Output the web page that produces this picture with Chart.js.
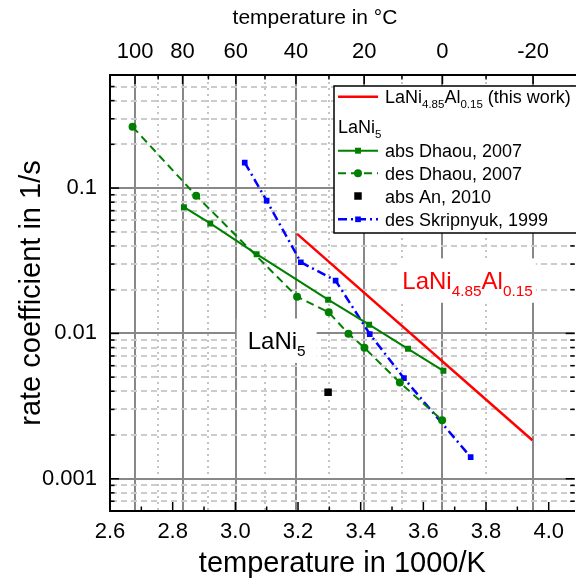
<!DOCTYPE html>
<html lang="en">
<head>
  <meta charset="UTF-8" />
  <title>Rate coefficient vs. inverse temperature</title>
  <script src="https://cdn.jsdelivr.net/npm/chart.js@4"></script>
  <style>
    html, body { margin: 0; padding: 0; background: #fff; overflow: hidden; }
    #wrap { width: 580px; height: 581px; }
  </style>
</head>
<body>
  <div id="wrap"><canvas id="rateChart"></canvas></div>

  <script>
    // x = 1000/K, y = rate coefficient in 1/s
    const thisWorkX = [3.197, 3.948];
    const thisWorkY = [0.0484, 0.00184];

    const absDhaouX = [2.836, 2.920, 3.068, 3.296, 3.427, 3.551, 3.664];
    const absDhaouY = [0.0739, 0.0571, 0.0351, 0.01706, 0.01148, 0.00784, 0.00553];

    const desDhaouX = [2.672, 2.875, 3.197, 3.298, 3.361, 3.412, 3.525, 3.660];
    const desDhaouY = [0.264, 0.0887, 0.0179, 0.01397, 0.00995, 0.00796, 0.00459, 0.00253];

    const absAnX = [3.296];
    const absAnY = [0.00394];

    const desSkripX = [3.030, 3.100, 3.209, 3.320, 3.429, 3.538, 3.751];
    const desSkripY = [0.1496, 0.0819, 0.0309, 0.0231, 0.0099, 0.00492, 0.00141];

    // ticks
    const xTicks = [2.6, 2.8, 3.0, 3.2, 3.4, 3.6, 3.8, 4.0];
    const xMinorTicks = [2.7, 2.9, 3.1, 3.3, 3.5, 3.7, 3.9];
    const tempTicksC = [100, 80, 60, 40, 20, 0, -20];
    const tempMinorC = [90, 70, 50, 30, 10, -10];
    const yTicks = [0.001, 0.01, 0.1];
    const yMinorTicks = [0.0007, 0.0008, 0.0009,
      0.002, 0.003, 0.004, 0.005, 0.006, 0.007, 0.008, 0.009,
      0.02, 0.03, 0.04, 0.05, 0.06, 0.07, 0.08, 0.09,
      0.2, 0.3, 0.4, 0.5];

    const GREEN = '#008000', BLUE = '#0000ff', RED = '#ff0000';
    const FONT = '"Liberation Sans", Arial, Helvetica, sans-serif';
    Chart.defaults.font.family = FONT;
    Chart.defaults.color = '#000';

    const pts = (xs, ys) => xs.map((x, i) => ({ x, y: ys[i] }));
    const inv = c => 1000 / (c + 273.15);
    const toC = v => Math.round(1000 / v - 273.15);

    // text with subscripts, parts = [[text, isSub], ...]
    function richWidth(ctx, parts, size) {
      let w = 0;
      parts.forEach(([t, sub]) => {
        ctx.font = (sub ? size * 0.64 : size) + 'px ' + FONT;
        w += ctx.measureText(t).width;
      });
      return w;
    }
    function drawRich(ctx, parts, x, base, size, color) {
      ctx.fillStyle = color;
      ctx.textBaseline = 'alphabetic';
      ctx.textAlign = 'left';
      parts.forEach(([t, sub]) => {
        ctx.font = (sub ? size * 0.64 : size) + 'px ' + FONT;
        ctx.fillText(t, x, sub ? base + size * 0.28 : base);
        x += ctx.measureText(t).width;
      });
    }
    function marker(ctx, style, x, y, r, color) {
      ctx.fillStyle = color;
      ctx.beginPath();
      if (style === 'circle') ctx.arc(x, y, r, 0, Math.PI * 2);
      else { const h = r * Math.SQRT1_2; ctx.rect(x - h, y - h, 2 * h, 2 * h); }
      ctx.fill();
    }

    const legendRows = [
      { dy: 10.7, color: RED, width: 2.5, dash: [], line: true, text: [['LaNi', 0], ['4.85', 1], ['Al', 0], ['0.15', 1], [' (this work)', 0]] },
      { dy: 40, header: true, text: [['LaNi', 0], ['5', 1]] },
      { dy: 64.7, color: GREEN, width: 2, dash: [], line: true, point: 'rect', r: 4.2, text: [['abs Dhaou, 2007', 0]] },
      { dy: 87.3, color: GREEN, width: 2, dash: [8, 5], line: true, point: 'circle', r: 4, text: [['des Dhaou, 2007', 0]] },
      { dy: 110, color: '#000', line: false, point: 'rect', r: 5.3, text: [['abs An, 2010', 0]] },
      { dy: 133.3, color: BLUE, width: 2.5, dash: [9, 4, 2, 4], line: true, point: 'rect', r: 4, text: [['des Skripnyuk, 1999', 0]] }
    ];

    const notes = [
      { x: 3.132, y: 0.0089, size: 24, padX: 22, color: '#000', text: [['LaNi', 0], ['5', 1]] },
      { x: 3.741, y: 0.0231, size: 24, padX: 6, color: RED, text: [['LaNi', 0], ['4.85', 1], ['Al', 0], ['0.15', 1]] }
    ];

    const extras = {
      id: 'extras',
      beforeDatasetsDraw(chart) {
        const { ctx, scales } = chart;
        ctx.save();
        notes.forEach(n => {
          const cx = scales.x.getPixelForValue(n.x);
          const cy = scales.y.getPixelForValue(n.y);
          const w = richWidth(ctx, n.text, n.size);
          const h = n.size * 1.85;
          ctx.fillStyle = '#fff';
          ctx.fillRect(cx - w / 2 - n.padX / 2, cy - h / 2, w + n.padX, h);
          drawRich(ctx, n.text, cx - w / 2, cy + n.size * 0.35, n.size, n.color);
        });
        ctx.restore();
      },
      afterDraw(chart) {
        const { ctx, chartArea: a, scales } = chart;
        ctx.save();

        // inward tick marks
        ctx.strokeStyle = '#000';
        ctx.lineWidth = 1.5;
        const marks = (vals, len, scale, side) => vals.forEach(v => {
          const p = scale.getPixelForValue(v);
          ctx.beginPath();
          if (side === 'bottom') { ctx.moveTo(p, a.bottom); ctx.lineTo(p, a.bottom - len); }
          if (side === 'top') { ctx.moveTo(p, a.top); ctx.lineTo(p, a.top + len); }
          if (side === 'left') { ctx.moveTo(a.left, p); ctx.lineTo(a.left + len, p); }
          if (side === 'right') { ctx.moveTo(a.right, p); ctx.lineTo(a.right - len, p); }
          ctx.stroke();
        });
        marks(xTicks, 9, scales.x, 'bottom');
        marks(xMinorTicks, 4.5, scales.x, 'bottom');
        marks(tempTicksC.map(inv), 9, scales.x2, 'top');
        marks(tempMinorC.map(inv), 4.5, scales.x2, 'top');
        ['left', 'right'].forEach(s => {
          marks(yTicks, 9, scales.y, s);
          marks(yMinorTicks, 4.5, scales.y, s);
        });

        // top axis title
        ctx.font = '21px ' + FONT;
        ctx.fillStyle = '#000';
        ctx.textAlign = 'center';
        ctx.textBaseline = 'middle';
        ctx.fillText('temperature in \u00b0C', a.left + 205, 18);

        // legend
        const L = a.left + 224, T = a.top + 11;
        ctx.fillStyle = '#fff';
        ctx.fillRect(L, T, 260, 147);
        ctx.lineWidth = 1.5;
        ctx.strokeStyle = '#000';
        ctx.strokeRect(L, T, 260, 147);
        legendRows.forEach(r => {
          const y = T + r.dy;
          if (r.header) {
            drawRich(ctx, r.text, L + 4, y + 6.5, 18, '#000');
            return;
          }
          if (r.line) {
            ctx.strokeStyle = r.color;
            ctx.lineWidth = r.width;
            ctx.setLineDash(r.dash);
            ctx.beginPath();
            ctx.moveTo(L + 4, y);
            ctx.lineTo(L + 44, y);
            ctx.stroke();
            ctx.setLineDash([]);
          }
          if (r.point) marker(ctx, r.point, L + 24, y, r.r, r.color);
          drawRich(ctx, r.text, L + 51, y + 6.5, 18, '#000');
        });
        ctx.restore();
      }
    };

    const ctx = document.getElementById('rateChart').getContext('2d');
    new Chart(ctx, {
      type: 'scatter',
      data: {
        datasets: [
          {
            label: 'LaNi4.85Al0.15 (this work)',
            data: pts(thisWorkX, thisWorkY),
            showLine: true, borderColor: RED, borderWidth: 2.5, pointRadius: 0
          },
          {
            label: 'abs Dhaou, 2007',
            data: pts(absDhaouX, absDhaouY),
            showLine: true, borderColor: GREEN, borderWidth: 2,
            pointStyle: 'rect', pointRadius: 4.2, pointBackgroundColor: GREEN, pointBorderWidth: 0
          },
          {
            label: 'des Dhaou, 2007',
            data: pts(desDhaouX, desDhaouY),
            showLine: true, borderColor: GREEN, borderWidth: 2, borderDash: [8, 5],
            pointStyle: 'circle', pointRadius: 4, pointBackgroundColor: GREEN, pointBorderWidth: 0
          },
          {
            label: 'abs An, 2010',
            data: pts(absAnX, absAnY),
            showLine: false,
            pointStyle: 'rect', pointRadius: 5.3, pointBackgroundColor: '#000', pointBorderWidth: 0
          },
          {
            label: 'des Skripnyuk, 1999',
            data: pts(desSkripX, desSkripY),
            showLine: true, borderColor: BLUE, borderWidth: 2.5, borderDash: [9, 4, 2, 4],
            pointStyle: 'rect', pointRadius: 4, pointBackgroundColor: BLUE, pointBorderWidth: 0
          }
        ]
      },
      options: {
        responsive: true,
        maintainAspectRatio: false,
        animation: false,
        layout: { padding: { left: 0, right: 2, top: 0, bottom: 0 } },
        plugins: { legend: { display: false }, tooltip: { enabled: false } },
        scales: {
          x: {
            type: 'linear', position: 'bottom', min: 2.6, max: 4.083,
            afterBuildTicks: s => { s.ticks = xTicks.map(v => ({ value: v })); },
            afterFit: s => { s.height = 70; },
            ticks: {
              callback: v => v.toFixed(1),
              font: { size: 22 }, color: '#000', padding: 8, maxRotation: 0, autoSkip: false
            },
            grid: { display: false, drawTicks: false },
            border: { display: true, color: '#000', width: 2 },
            title: {
              display: true, text: 'temperature in 1000/K',
              font: { size: 29 }, color: '#000', padding: { top: 0, bottom: 0 }
            }
          },
          x2: {
            type: 'linear', position: 'top', min: 2.6, max: 4.083,
            afterBuildTicks: s => {
              s.ticks = tempTicksC.concat(tempMinorC)
                .map(c => ({ value: inv(c) }))
                .sort((p, q) => p.value - q.value);
            },
            afterFit: s => { s.height = 75; },
            ticks: {
              callback: v => tempTicksC.includes(toC(v)) ? String(toC(v)) : '',
              font: { size: 22 }, color: '#000', padding: 10, maxRotation: 0, autoSkip: false
            },
            grid: {
              drawTicks: false, lineWidth: 2,
              color: c => (c.tick && tempTicksC.includes(toC(c.tick.value))) ? '#888888' : '#c4c4c4'
            },
            border: {
              display: true, color: '#000', width: 2,
              dash: c => (c.tick && !tempTicksC.includes(toC(c.tick.value))) ? [2, 4] : []
            }
          },
          y: {
            type: 'logarithmic', min: 0.0006, max: 0.6,
            afterBuildTicks: s => {
              s.ticks = yTicks.concat(yMinorTicks)
                .map(v => ({ value: v }))
                .sort((p, q) => p.value - q.value);
            },
            afterFit: s => { s.width = 110; },
            ticks: {
              callback: v => yTicks.includes(v) ? String(v) : '',
              font: { size: 22 }, color: '#000', padding: 13, autoSkip: false
            },
            grid: {
              drawTicks: false, lineWidth: 2,
              color: c => (c.tick && yTicks.includes(c.tick.value)) ? '#888888' : '#cccccc'
            },
            border: {
              display: true, color: '#000', width: 2,
              dash: c => (c.tick && !yTicks.includes(c.tick.value)) ? [6, 4] : []
            },
            title: {
              display: true, text: 'rate coefficient in 1/s',
              font: { size: 29 }, color: '#000', padding: { top: 15, bottom: 0 }
            }
          }
        }
      },
      plugins: [extras]
    });
  </script>
</body>
</html>
